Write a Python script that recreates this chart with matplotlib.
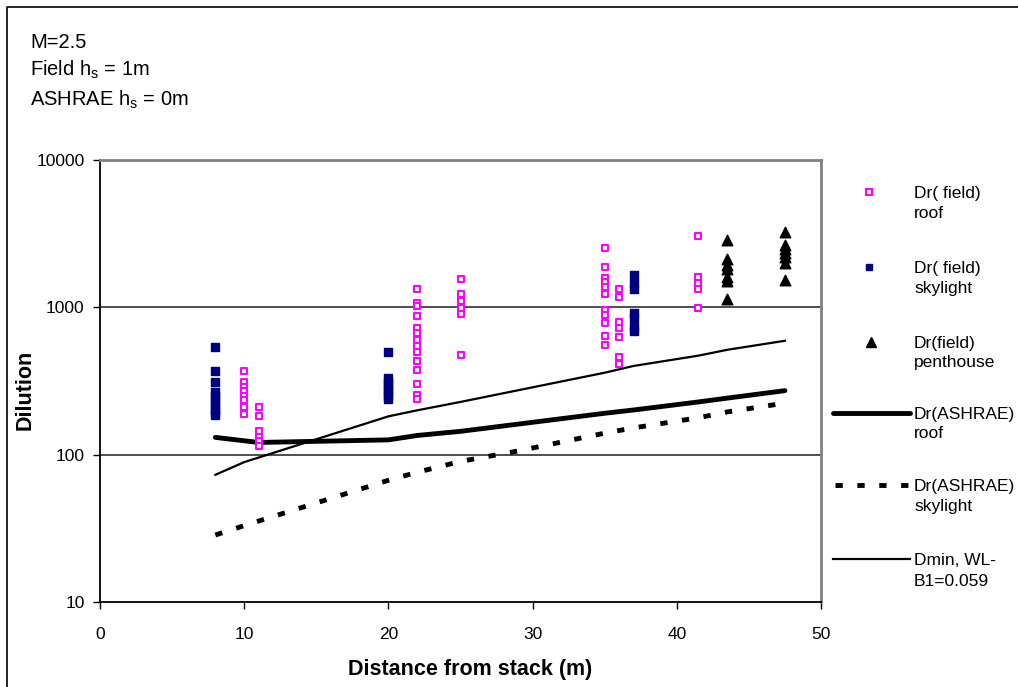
import matplotlib
matplotlib.use("Agg")
import matplotlib.pyplot as plt
from matplotlib.lines import Line2D
from matplotlib.ticker import FixedLocator, FixedFormatter, NullLocator

plt.rcParams['font.family'] = ['Liberation Sans', 'DejaVu Sans']

# ---- data ----
roof_x = [10]*8 + [11]*6 + [22]*14 + [25]*6 + [35]*11 + [36]*7 + [41.5]*5
roof_y = [370, 310, 290, 270, 250, 235, 212, 190,
          210, 182, 145, 131, 123, 115,
          1334, 1067, 1023, 876, 729, 668, 602, 548, 494, 429, 377, 303, 255, 238,
          1561, 1228, 1111, 988, 903, 476,
          2543, 1875, 1593, 1496, 1371, 1235, 962, 890, 782, 634, 557,
          1334, 1183, 794, 729, 628, 457, 412,
          3055, 1618, 1459, 1334, 988]

sky_x = [8]*10 + [20]*8 + [37]*7
sky_y = [540, 370, 312, 265, 250, 235, 220, 205, 195, 185,
         494, 330, 310, 295, 280, 265, 250, 238,
         1660, 1459, 1334, 914, 845, 741, 686]

pent_x = [43.5]*7 + [47.5]*7
pent_y = [2870, 2123, 1943, 1816, 1618, 1513, 1137,
          3266, 2653, 2481, 2330, 2189, 2013, 1536]

ashrae_roof_x = [8, 11, 20, 22, 25, 35, 37, 41.5, 43.5, 47.5]
ashrae_roof_y = [131, 121, 126, 135, 144, 191, 201, 228, 242, 272]

ashrae_sky_x = [8, 10, 20, 22, 25, 29, 35, 37, 41.5, 43.5, 47]
ashrae_sky_y = [28.5, 33, 67, 76, 90, 106, 140, 152, 178, 195, 220]

dmin_x = [8, 10, 20, 22, 25, 35, 37, 41.5, 43.5, 47.5]
dmin_y = [73, 89, 182, 200, 228, 360, 400, 470, 515, 593]

yticks = [10, 100, 1000, 10000]
ytick_labels = ['10', '100', '1000', '10000']
xticks = [0, 10, 20, 30, 40, 50]

legend_labels = [('Dr( field)', 'roof'), ('Dr( field)', 'skylight'),
                 ('Dr(field)', 'penthouse'), ('Dr(ASHRAE)', 'roof'),
                 ('Dr(ASHRAE)', 'skylight'), ('Dmin, WL-', 'B1=0.059')]

# ---- figure ----
W, H = 1018, 687
fig = plt.figure(figsize=(W/100, H/100), dpi=100)
ax = fig.add_axes([100/W, 1-602/H, (821-100)/W, (602-160)/H])

ax.set_yscale('log')
ax.set_xlim(0, 50)
ax.set_ylim(10, 10000)

for y in [100, 1000]:
    ax.axhline(y, color='#404040', lw=1.3, zorder=1)

roof_style = dict(color='black', lw=3.5, solid_capstyle='round')
sky_style = dict(color='black', lw=3.5, dashes=(1.5, 3), dash_capstyle='butt')
dmin_style = dict(color='black', lw=1.6)

ax.plot(ashrae_roof_x, ashrae_roof_y, zorder=3, **roof_style)
ax.plot(ashrae_sky_x, ashrae_sky_y, zorder=3, **sky_style)
ax.plot(dmin_x, dmin_y, zorder=3, **dmin_style)

roof_m = dict(marker='s', s=24, facecolor='white', edgecolor='#ff00ff', linewidths=1.5)
sky_m = dict(marker='s', s=30, color='#000080')
pent_m = dict(marker='^', s=58, color='black')

ax.scatter(roof_x, roof_y, zorder=4, **roof_m)
ax.scatter(sky_x, sky_y, zorder=4, **sky_m)
ax.scatter(pent_x, pent_y, zorder=4, **pent_m)

ax.yaxis.set_major_locator(FixedLocator(yticks))
ax.yaxis.set_major_formatter(FixedFormatter(ytick_labels))
ax.yaxis.set_minor_locator(NullLocator())
ax.set_xticks(xticks)
ax.tick_params(axis='both', labelsize=12.5, direction='out', length=5,
               width=1, color='black', pad=6)
ax.tick_params(axis='x', pad=13)

for sp in ['left', 'bottom']:
    ax.spines[sp].set_color('black')
    ax.spines[sp].set_linewidth(1.3)
for sp in ['top', 'right']:
    ax.spines[sp].set_color('#808080')
    ax.spines[sp].set_linewidth(2)

ax.set_xlabel('Distance from stack (m)', fontsize=15.5, fontweight='bold')
ax.set_ylabel('Dilution', fontsize=15.5, fontweight='bold')
ax.xaxis.set_label_coords((470-100)/721, -(670-602)/442)
ax.yaxis.set_label_coords((25-100)/721, 0.48)
ax.xaxis.label.set_va('center')
ax.yaxis.label.set_va('center')

# ---- manual legend (figure pixel coordinates) ----
def fx(px):
    return px / W

def fy(py):
    return 1 - py / H

leg_first = [192, 267, 342, 413, 485, 559]
leg_second = [212, 287, 361, 432, 505, 580]
tf = fig.transFigure
fig.add_artist(Line2D([fx(869)], [fy(leg_first[0])], transform=tf, ls='none',
                      marker='s', markersize=5, markerfacecolor='white',
                      markeredgecolor='#ff00ff', markeredgewidth=1.5))
fig.add_artist(Line2D([fx(869)], [fy(leg_first[1])], transform=tf, ls='none',
                      marker='s', markersize=5, color='#000080'))
fig.add_artist(Line2D([fx(871)], [fy(leg_first[2])], transform=tf, ls='none',
                      marker='^', markersize=7, color='black'))
fig.add_artist(Line2D([fx(833), fx(910)], [fy(leg_first[3])]*2, transform=tf,
                      **roof_style))
fig.add_artist(Line2D([fx(835), fx(912)], [fy(leg_first[4])]*2, transform=tf,
                      **sky_style))
fig.add_artist(Line2D([fx(833), fx(910)], [fy(leg_first[5])]*2, transform=tf,
                      **dmin_style))
for (a, b), y1, y2 in zip(legend_labels, leg_first, leg_second):
    fig.text(fx(914), fy(y1 + 6), a, fontsize=12.5, va='baseline', ha='left')
    fig.text(fx(914), fy(y2 + 6), b, fontsize=12.5, va='baseline', ha='left')

# annotation text
fig.text(30/W, 1-48/H, 'M=2.5', fontsize=14.5, va='baseline')
fig.text(30/W, 1-76/H, r'Field h$_\mathregular{s}$ = 1m', fontsize=14.5, va='baseline')
fig.text(30/W, 1-106/H, r'ASHRAE h$_\mathregular{s}$ = 0m', fontsize=14.5, va='baseline')

# outer frame (left and top edges visible)
fig.add_artist(Line2D([7/W, 7/W, 1.0], [0, 1-7/H, 1-7/H],
                      transform=tf, color='black', lw=1.2))

fig.savefig('out.png', dpi=100)
